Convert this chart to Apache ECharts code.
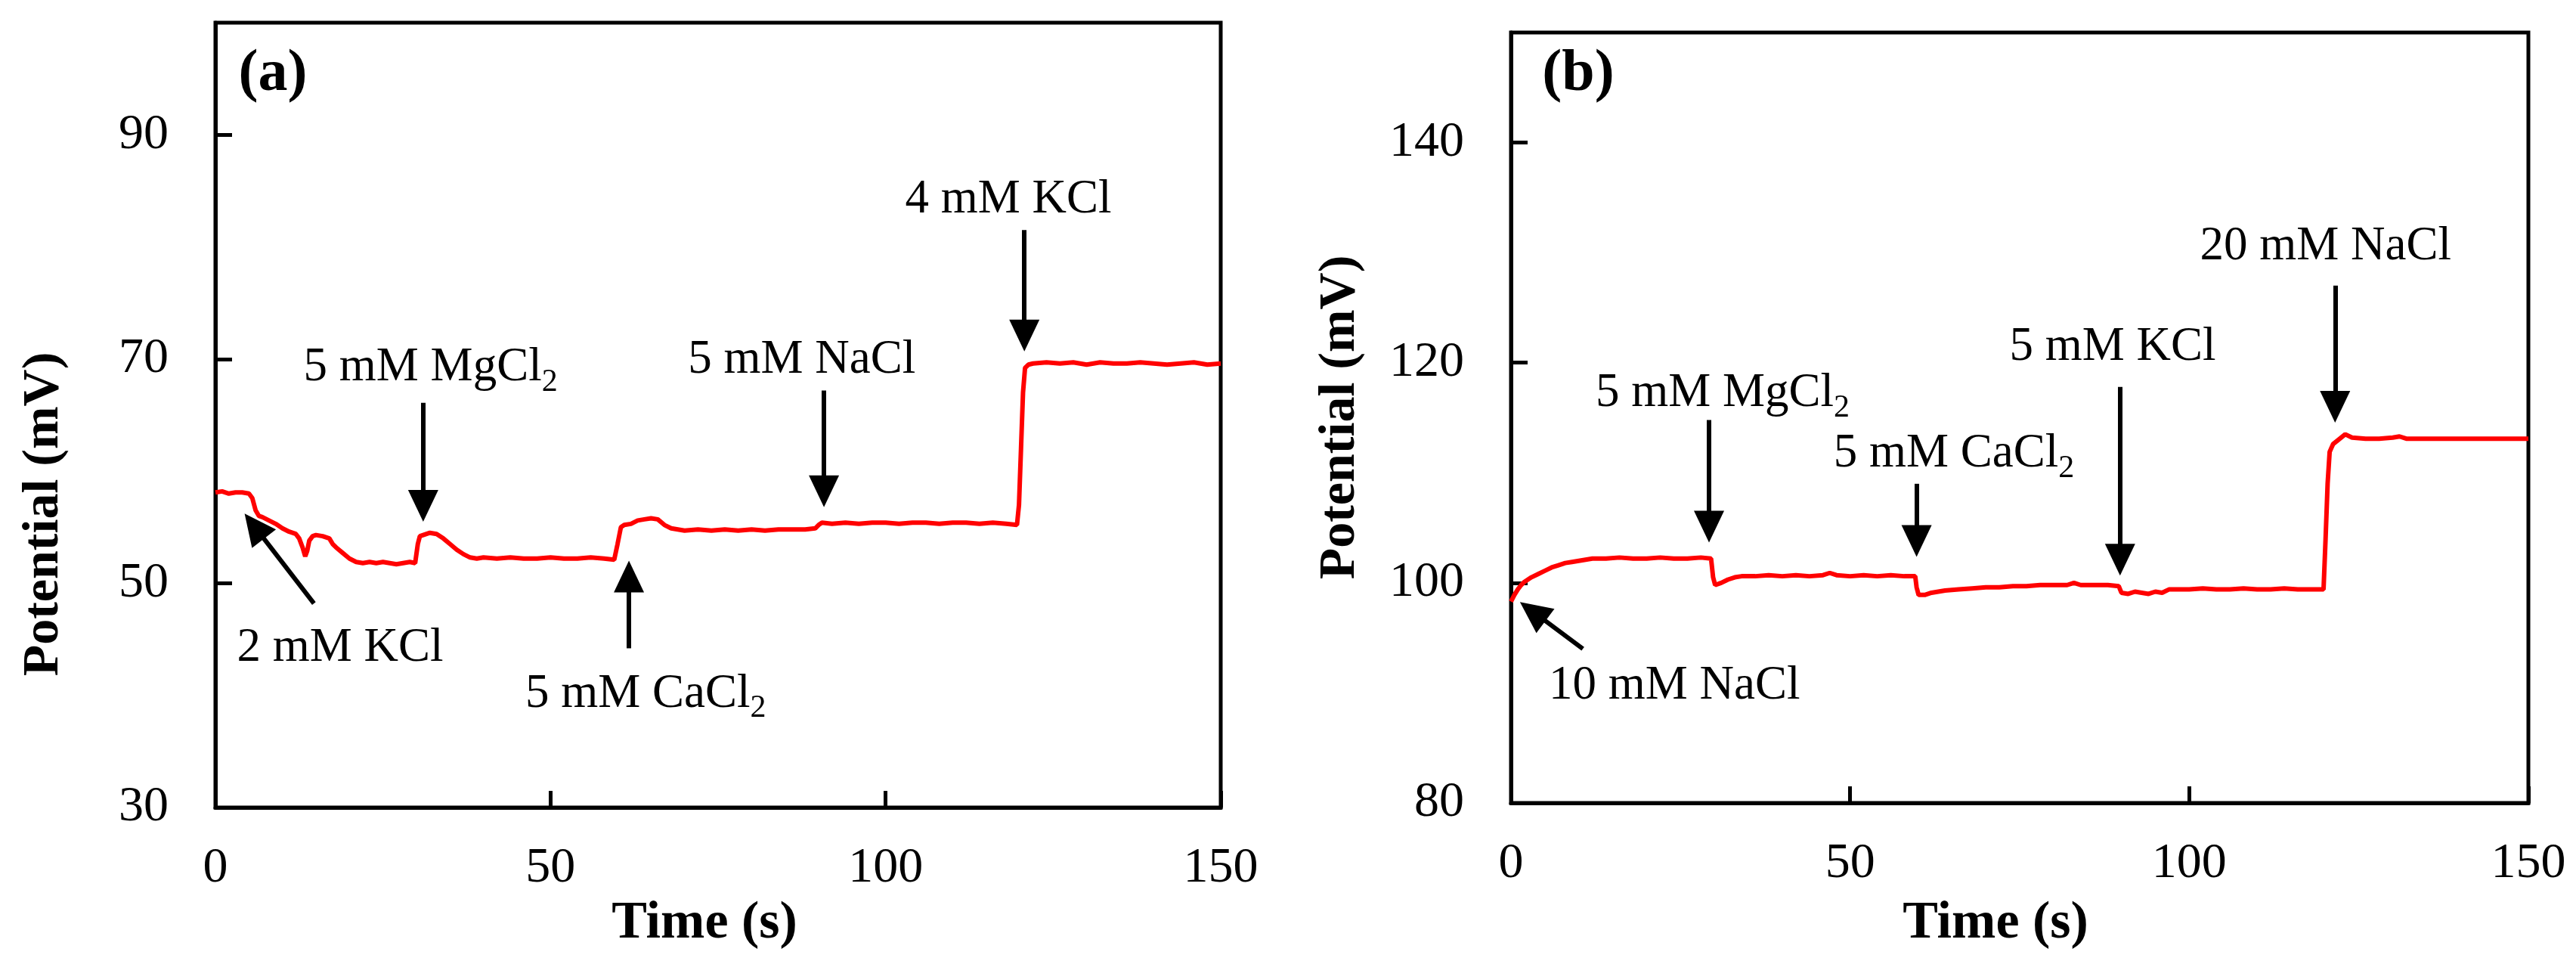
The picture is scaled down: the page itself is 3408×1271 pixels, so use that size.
<!DOCTYPE html>
<html>
<head>
<meta charset="utf-8">
<script src="https://cdn.jsdelivr.net/npm/echarts@6/dist/echarts.min.js"></script>
<style>
html, body { margin: 0; padding: 0; background: #ffffff; }
#chart { width: 3408px; height: 1271px; }
</style>
</head>
<body>
<div id="chart"></div>
<script>
// ---------------- data ----------------
const timeA = [0, 1, 2, 3, 4, 5, 5.5, 6, 6.5, 7, 8, 9, 10, 11, 12, 12.5, 13, 13.4, 13.7, 14, 14.5, 15, 16, 17, 17.5, 18, 19, 20, 21, 22, 23, 24, 25, 26, 27, 28, 29, 29.8,
  30.2, 30.5, 31, 32, 33, 34, 35, 36, 37, 38, 39, 40, 42, 44, 46, 48, 50, 52, 54, 56, 58, 59.5,
  60, 60.5, 61, 62, 63, 64, 65, 66, 67, 68, 69, 70, 72, 74, 76, 78, 80, 82, 84, 86, 88, 89.5,
  90, 90.5, 92, 94, 96, 98, 100, 102, 104, 106, 108, 110, 112, 114, 116, 118, 119.6,
  119.9, 120.2, 120.5, 120.8, 121.3, 122, 124, 126, 128, 130, 132, 134, 136, 138, 140, 142, 144, 146, 148, 150];
const potA = [58.1, 58.2, 58.0, 58.1, 58.1, 58.0, 57.6, 56.5, 56.0, 55.9, 55.6, 55.3, 54.9, 54.6, 54.4, 54.0, 53.2, 52.4, 52.9, 53.8, 54.2, 54.3, 54.2, 54.0, 53.5, 53.2, 52.7, 52.2, 51.9, 51.8, 51.9, 51.8, 51.9, 51.8, 51.7, 51.8, 51.9, 51.8,
  53.5, 54.2, 54.3, 54.5, 54.4, 54.0, 53.5, 53.0, 52.6, 52.3, 52.2, 52.3, 52.2, 52.3, 52.2, 52.2, 52.3, 52.2, 52.2, 52.3, 52.2, 52.1,
  53.5, 55.0, 55.2, 55.3, 55.6, 55.7, 55.8, 55.7, 55.2, 54.9, 54.8, 54.7, 54.8, 54.7, 54.8, 54.7, 54.8, 54.7, 54.8, 54.8, 54.8, 54.9,
  55.2, 55.4, 55.3, 55.4, 55.3, 55.4, 55.4, 55.3, 55.4, 55.4, 55.3, 55.4, 55.4, 55.3, 55.4, 55.3, 55.2,
  57.0, 62.0, 67.0, 69.2, 69.5, 69.6, 69.7, 69.6, 69.7, 69.5, 69.7, 69.6, 69.6, 69.7, 69.6, 69.5, 69.6, 69.7, 69.5, 69.6];

const timeB = [0, 0.5, 1, 1.5, 2, 3, 4, 5, 6, 7, 8, 9, 10, 11, 12, 14, 16, 18, 20, 22, 24, 26, 28, 29.5,
  29.8, 30.1, 31, 32, 33, 34, 36, 38, 40, 42, 44, 46, 47, 48, 50, 52, 54, 56, 58, 59.6,
  59.8, 60.1, 61, 62, 64, 66, 68, 70, 72, 74, 76, 78, 80, 82, 83, 84, 86, 88, 89.6,
  90, 91, 92, 93, 94, 95, 96, 97, 98, 100, 102, 104, 106, 108, 110, 112, 114, 116, 118, 119.8,
  120.1, 120.4, 120.7, 121.2, 122, 123, 124, 126, 128, 130, 131, 132, 134, 136, 138, 140, 142, 144, 146, 148, 150];
const potB = [98.3, 98.9, 99.4, 99.8, 100.1, 100.5, 100.8, 101.1, 101.4, 101.6, 101.8, 101.9, 102.0, 102.1, 102.2, 102.2, 102.3, 102.2, 102.2, 102.3, 102.2, 102.2, 102.3, 102.2,
  100.5, 99.8, 100.0, 100.3, 100.5, 100.6, 100.6, 100.7, 100.6, 100.7, 100.6, 100.7, 100.9, 100.7, 100.6, 100.7, 100.6, 100.7, 100.6, 100.6,
  99.6, 98.9, 98.9, 99.1, 99.3, 99.4, 99.5, 99.6, 99.6, 99.7, 99.7, 99.8, 99.8, 99.8, 100.0, 99.8, 99.8, 99.8, 99.7,
  99.1, 99.0, 99.2, 99.1, 99.0, 99.2, 99.1, 99.4, 99.4, 99.4, 99.5, 99.4, 99.4, 99.5, 99.4, 99.4, 99.5, 99.4, 99.4, 99.4,
  104.0, 109.0, 111.9, 112.6, 113.0, 113.5, 113.2, 113.1, 113.1, 113.2, 113.3, 113.1, 113.1, 113.1, 113.1, 113.1, 113.1, 113.1, 113.1, 113.1, 113.1];

const xTickLabels = [0, 50, 100, 150];
const yTickLabelsA = [30, 50, 70, 90];
const yTickLabelsB = [80, 100, 120, 140];

// annotations (data coordinates)
const notesA = ['2 mM KCl', '5 mM MgCl{sub|2}', '5 mM CaCl{sub|2}', '5 mM NaCl', '4 mM KCl'];
const noteTimeA = [18.6, 32.1, 64.2, 87.5, 118.3];
const notePotA = [44.2, 69.2, 40.1, 69.9, 84.2];
const arrowFromA = [[14.7, 48.2], [31.0, 66.1], [61.7, 44.2], [90.8, 67.2], [120.7, 81.5]];
const arrowToA = [[5.8, 55.1], [31.0, 56.9], [61.7, 50.6], [90.8, 58.2], [120.7, 72.1]];

const notesB = ['10 mM NaCl', '5 mM MgCl{sub|2}', '5 mM CaCl{sub|2}', '5 mM KCl', '20 mM NaCl'];
const noteTimeB = [24.1, 31.2, 65.3, 88.7, 120.1];
const notePotB = [90.6, 117.2, 111.7, 121.4, 130.5];
const arrowFromB = [[10.6, 94.0], [29.2, 114.8], [59.8, 109.0], [89.8, 117.8], [121.5, 127.0]];
const arrowToB = [[3.2, 97.4], [29.2, 105.1], [59.8, 103.8], [89.8, 102.1], [121.5, 116.0]];

// ---------------- chart ----------------
const SERIF = '"Liberation Serif", "Times New Roman", Times, serif';
const chart = echarts.init(document.getElementById('chart'), null, { renderer: 'canvas' });

function zip(xs, ys) { return xs.map((x, i) => [x, ys[i]]); }

function xAxisCfg(gridIndex) {
  return {
    type: 'value', gridIndex, min: 0, max: 150, interval: 50,
    axisLine: { show: true, onZero: false, lineStyle: { color: '#000', width: 5 } },
    axisTick: { show: true, inside: true, length: 22, lineStyle: { color: '#000', width: 5 } },
    axisLabel: {
      margin: 48, color: '#000', fontSize: 66, fontFamily: SERIF,
      formatter: v => (xTickLabels.indexOf(v) >= 0 ? String(v) : '')
    },
    splitLine: { show: false }
  };
}
function yAxisCfg(gridIndex, min, max, labels) {
  return {
    type: 'value', gridIndex, min, max, interval: 20,
    axisLine: { show: true, onZero: false, lineStyle: { color: '#000', width: 5 } },
    axisTick: { show: true, inside: true, length: 22, lineStyle: { color: '#000', width: 5 } },
    axisLabel: {
      margin: 62, color: '#000', fontSize: 66, fontFamily: SERIF, showMaxLabel: false,
      formatter: v => (labels.indexOf(v) >= 0 ? String(v) : '')
    },
    splitLine: { show: false }
  };
}

function noteLabelStyle() {
  return {
    show: true, position: 'inside', color: '#000', fontSize: 63, fontFamily: SERIF, lineHeight: 80,
    formatter: p => p.name,
    rich: { sub: { fontSize: 42, lineHeight: 40, verticalAlign: 'bottom', fontFamily: SERIF, color: '#000' } }
  };
}

function seriesCfg(idx, times, pots, notes, nx, ny, af, at) {
  return {
    type: 'line', xAxisIndex: idx, yAxisIndex: idx,
    data: zip(times, pots),
    showSymbol: false, symbol: 'none',
    lineStyle: { color: '#ff0000', width: 6 },
    itemStyle: { color: '#ff0000' },
    animation: false, silent: true,
    markLine: {
      silent: true, animation: false,
      symbol: ['none', 'triangle'], symbolSize: [40, 42],
      label: { show: false },
      lineStyle: { color: '#000', width: 6, type: 'solid', opacity: 1 },
      itemStyle: { color: '#000' },
      emphasis: { disabled: true },
      data: af.map((f, i) => [{ coord: f }, { coord: at[i] }])
    },
    markPoint: {
      silent: true, animation: false,
      symbol: 'rect', symbolSize: 1,
      itemStyle: { color: 'rgba(0,0,0,0)' },
      label: noteLabelStyle(),
      data: notes.map((n, i) => ({ name: n, coord: [nx[i], ny[i]] }))
    }
  };
}

function txt(x, y, text, size, bold, rot) {
  return {
    type: 'text', x, y, rotation: rot || 0, silent: true,
    style: {
      text, fill: '#000', fontSize: size, fontFamily: SERIF, fontWeight: bold ? 'bold' : 'normal',
      align: 'center', verticalAlign: 'middle', textAlign: 'center', textVerticalAlign: 'middle'
    }
  };
}

const option = {
  backgroundColor: '#ffffff',
  animation: false,
  grid: [
    { left: 285, top: 30, width: 1330, height: 1038, show: true, borderColor: '#000', borderWidth: 5, backgroundColor: 'transparent', outerBoundsMode: 'none', containLabel: false },
    { left: 1999, top: 43, width: 1346, height: 1019, show: true, borderColor: '#000', borderWidth: 5, backgroundColor: 'transparent', outerBoundsMode: 'none', containLabel: false }
  ],
  xAxis: [xAxisCfg(0), xAxisCfg(1)],
  yAxis: [yAxisCfg(0, 30, 100, yTickLabelsA), yAxisCfg(1, 80, 150, yTickLabelsB)],
  series: [
    seriesCfg(0, timeA, potA, notesA, noteTimeA, notePotA, arrowFromA, arrowToA),
    seriesCfg(1, timeB, potB, notesB, noteTimeB, notePotB, arrowFromB, arrowToB)
  ],
  graphic: [
    txt(361, 99, '(a)', 78, true),
    txt(2088, 99, '(b)', 78, true),
    txt(932, 1222, 'Time (s)', 70, true),
    txt(2640, 1222, 'Time (s)', 70, true),
    txt(58, 680, 'Potential (mV)', 68, true, Math.PI / 2),
    txt(1773, 552, 'Potential (mV)', 68, true, Math.PI / 2)
  ]
};
chart.setOption(option);
</script>
</body>
</html>
